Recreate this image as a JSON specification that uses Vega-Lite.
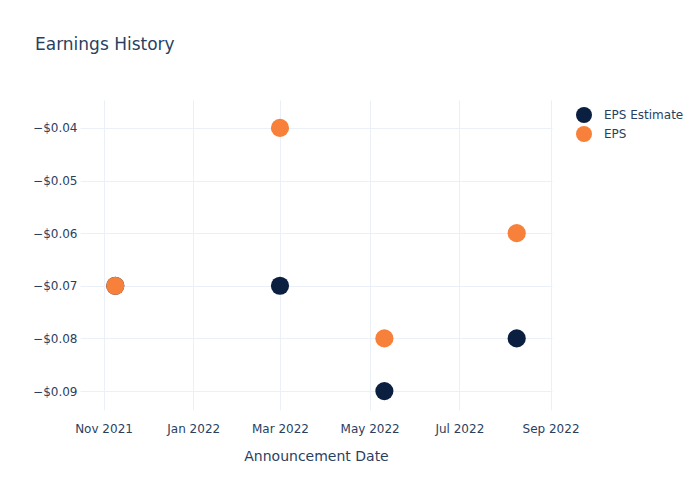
{
  "$schema": "https://vega.github.io/schema/vega-lite/v6.json",
  "width": 472,
  "height": 310,
  "autosize": {"type": "none"},
  "padding": {"left": 80, "top": 100, "right": 148, "bottom": 90},
  "background": "white",
  "title": {
    "text": "Earnings History",
    "anchor": "start",
    "frame": "group",
    "dx": -45,
    "offset": 46,
    "font": "DejaVu Sans",
    "fontSize": 17,
    "fontWeight": "normal",
    "color": "#2a3f5f"
  },
  "config": {
    "view": {"stroke": null},
    "font": "DejaVu Sans"
  },
  "data": {
    "values": [
      {"date": "2021-11-09", "series": "EPS Estimate", "value": -0.07},
      {"date": "2022-03-01", "series": "EPS Estimate", "value": -0.07},
      {"date": "2022-05-11", "series": "EPS Estimate", "value": -0.09},
      {"date": "2022-08-09", "series": "EPS Estimate", "value": -0.08},
      {"date": "2021-11-09", "series": "EPS", "value": -0.07},
      {"date": "2022-03-01", "series": "EPS", "value": -0.04},
      {"date": "2022-05-11", "series": "EPS", "value": -0.08},
      {"date": "2022-08-09", "series": "EPS", "value": -0.06}
    ]
  },
  "mark": {"type": "circle", "size": 330, "opacity": 1},
  "encoding": {
    "x": {
      "field": "date",
      "type": "temporal",
      "title": "Announcement Date",
      "scale": {"domain": ["2021-10-16", "2022-09-02"]},
      "axis": {
        "format": "%b %Y",
        "tickCount": {"interval": "month", "step": 2},
        "domain": false,
        "ticks": false,
        "grid": true,
        "gridColor": "#ebf0f8",
        "labelFont": "DejaVu Sans",
        "labelFontSize": 12,
        "labelColor": "#2a3f5f",
        "labelPadding": 13,
        "titleFont": "DejaVu Sans",
        "titleFontSize": 14,
        "titleFontWeight": "normal",
        "titleColor": "#2a3f5f",
        "titlePadding": 15
      }
    },
    "y": {
      "field": "value",
      "type": "quantitative",
      "title": null,
      "scale": {"domain": [-0.0936, -0.0347], "zero": false, "nice": false},
      "axis": {
        "format": "$.2f",
        "values": [-0.09, -0.08, -0.07, -0.06, -0.05, -0.04],
        "domain": false,
        "ticks": false,
        "grid": true,
        "gridColor": "#ebf0f8",
        "labelFont": "DejaVu Sans",
        "labelFontSize": 12,
        "labelColor": "#2a3f5f",
        "labelPadding": 3
      }
    },
    "color": {
      "field": "series",
      "type": "nominal",
      "scale": {"domain": ["EPS Estimate", "EPS"], "range": ["#0b1f41", "#f7803a"]},
      "legend": {
        "title": null,
        "orient": "none",
        "legendX": 495,
        "legendY": 6,
        "symbolType": "circle",
        "symbolSize": 256,
        "symbolOpacity": 1,
        "labelFont": "DejaVu Sans",
        "labelFontSize": 12,
        "labelColor": "#2a3f5f",
        "rowPadding": 2,
        "labelOffset": 11
      }
    },
    "order": {"field": "series", "sort": "descending"}
  }
}
